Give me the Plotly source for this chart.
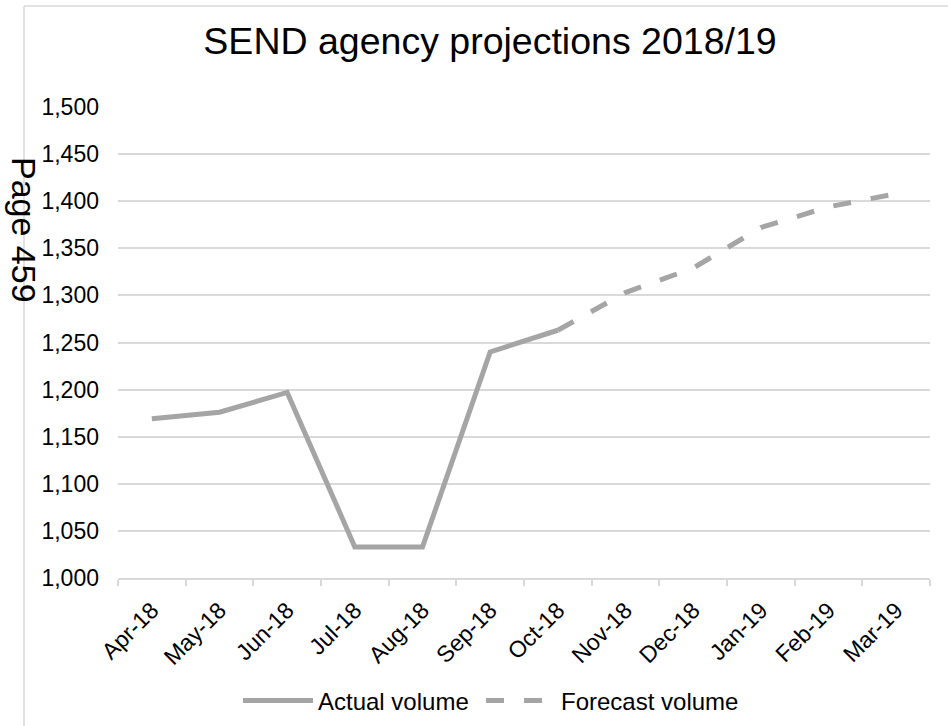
import plotly.graph_objects as go

# Monthly SEND agency volumes, financial year 2018/19
months = ["Apr-18", "May-18", "Jun-18", "Jul-18", "Aug-18", "Sep-18",
          "Oct-18", "Nov-18", "Dec-18", "Jan-19", "Feb-19", "Mar-19"]
actual_volume = [1169, 1176, 1197, 1033, 1033, 1240, 1263,
                 None, None, None, None, None]
forecast_volume = [None, None, None, None, None, None, 1263,
                   1303, 1329, 1372, 1394, 1408]
y_ticks = list(range(1000, 1501, 50))

LINE_GREY = "#A5A5A5"
GRID_GREY = "#D9D9D9"
FONT = "Arial, Liberation Sans, sans-serif"

fig = go.Figure()
fig.add_trace(go.Scatter(
    x=months, y=actual_volume, name="Actual volume", mode="lines",
    line=dict(color=LINE_GREY, width=5), legend="legend",
))
fig.add_trace(go.Scatter(
    x=months, y=forecast_volume, name="Forecast volume", mode="lines",
    line=dict(color=LINE_GREY, width=5, dash="18px,20px"), legend="legend2",
))

# Plot-area geometry in pixels (used to place the outer chart frame)
W, H = 948, 726
L, R, T, B = 118, 18, 107, 148
pw, ph = W - L - R, H - T - B


def px_x(p):
    return (p - L) / pw


def px_y(p):
    return (H - B - p) / ph


legend_style = dict(orientation="h", xref="container", yref="container",
                    xanchor="left", y=1 - 701 / H, yanchor="middle",
                    font=dict(family=FONT, size=24, color="#000000"),
                    itemwidth=70, bgcolor="rgba(0,0,0,0)")

fig.update_layout(
    width=W, height=H,
    margin=dict(l=L, r=R, t=T, b=B, pad=0, autoexpand=False),
    paper_bgcolor="white", plot_bgcolor="white",
    font=dict(family=FONT, size=23, color="#000000"),
    title=dict(text="SEND agency projections 2018/19",
               font=dict(family=FONT, size=37.5, color="#000000"),
               x=490 / W, xanchor="center", y=1 - 41 / H, yanchor="middle"),
    showlegend=True,
    legend=dict(x=238 / W, **legend_style),
    legend2=dict(x=481 / W, **legend_style),
    xaxis=dict(
        type="category", categoryorder="array", categoryarray=months,
        range=[-0.5, len(months) - 0.5], automargin=False,
        tickangle=-45, showgrid=False, showline=True, linecolor=GRID_GREY,
        linewidth=1.5, ticks="outside", tickson="boundaries", ticklen=6,
        tickcolor=GRID_GREY, tickwidth=1.5, ticklabelstandoff=8,
        tickfont=dict(family=FONT, size=23, color="#000000"),
        zeroline=False, fixedrange=True,
    ),
    yaxis=dict(
        range=[1000, 1500], tickvals=y_ticks, automargin=False,
        ticktext=[f"{v:,}" for v in y_ticks],
        showgrid=True, gridcolor=GRID_GREY, gridwidth=1.5,
        showline=False, zeroline=False, ticks="", ticklabelstandoff=18,
        tickfont=dict(family=FONT, size=23, color="#000000"),
        fixedrange=True,
    ),
    shapes=[
        # outer chart frame (left and top edges)
        dict(type="line", xref="paper", yref="paper",
             x0=px_x(24), x1=px_x(24), y0=px_y(6), y1=px_y(730),
             line=dict(color=GRID_GREY, width=1.5), layer="below"),
        dict(type="line", xref="paper", yref="paper",
             x0=px_x(24), x1=px_x(960), y0=px_y(6), y1=px_y(6),
             line=dict(color=GRID_GREY, width=1.5), layer="below"),
    ],
    annotations=[
        dict(text="Page 459", xref="paper", yref="paper",
             x=px_x(24), y=px_y(230), xanchor="center", yanchor="middle",
             showarrow=False, textangle=90,
             font=dict(family=FONT, size=34, color="#000000")),
    ],
)

fig.write_html("out.html")
